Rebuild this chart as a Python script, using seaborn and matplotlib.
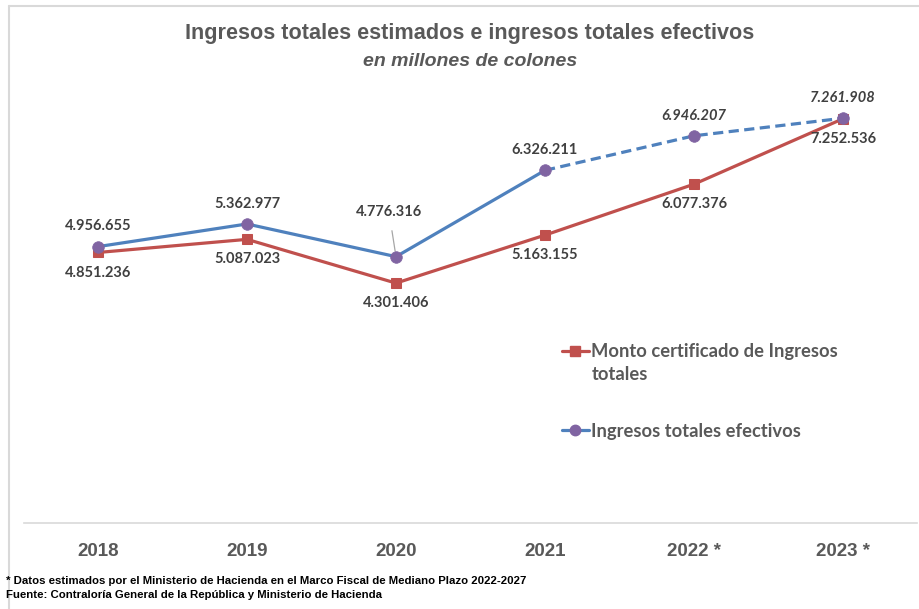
import matplotlib
matplotlib.use("Agg")
import matplotlib.pyplot as plt
from matplotlib import font_manager
from matplotlib.lines import Line2D
import seaborn as sns
import pandas as pd

# ---- data (millones de colones) ----
years = ["2018", "2019", "2020", "2021", "2022 *", "2023 *"]
monto_certificado = [4851236, 5087023, 4301406, 5163155, 6077376, 7252536]
ingresos_efectivos = [4956655, 5362977, 4776316, 6326211, 6946207, 7261908]
n_real = 4  # first four years are actual values; the rest are estimates

title = "Ingresos totales estimados e ingresos totales efectivos"
subtitle = "en millones de colones"
legend_labels = ["Monto certificado de Ingresos", "Ingresos totales efectivos"]
legend_wrap = "totales"
footnotes = [
    "* Datos estimados por el Ministerio de Hacienda en el Marco Fiscal de Mediano Plazo 2022-2027",
    "Fuente: Contraloría General de la República y Ministerio de Hacienda",
]

RED = "#C0504D"
BLUE = "#4F81BD"
PURPLE = "#8064A2"
GREY_TXT = "#595959"
LABEL_TXT = "#404040"

sns.set_style("white")
_avail = {f.name for f in font_manager.fontManager.ttflist}
NARROW = "Liberation Sans Narrow" if "Liberation Sans Narrow" in _avail else "Liberation Sans"
BODY = "Lato" if "Lato" in _avail else "DejaVu Sans"
plt.rcParams["font.family"] = [BODY, "DejaVu Sans"]

W, H = 919, 609
fig = plt.figure(figsize=(W / 100, H / 100), dpi=100)
fig.patch.set_facecolor("white")

# chart frame (left and top edges visible)
fig.add_artist(Line2D([8.5 / W, 8.5 / W], [0, 1 - 6 / H], transform=fig.transFigure,
                      color="#D9D9D9", lw=1.5))
fig.add_artist(Line2D([8.5 / W, 1], [1 - 6 / H, 1 - 6 / H], transform=fig.transFigure,
                      color="#D9D9D9", lw=1.5))

x0, x1 = 23.5, 917.5
y_base, px_per_unit = 522.7, 55.7e-6
ymax = 8_000_000
ax = fig.add_axes([x0 / W, (H - y_base) / H, (x1 - x0) / W, ymax * px_per_unit / H])

df = pd.DataFrame({
    "pos": range(len(years)),
    "monto": monto_certificado,
    "efectivo": ingresos_efectivos,
})

lw = 2.3
sns.lineplot(data=df, x="pos", y="monto", ax=ax, color=RED, lw=lw, marker="s",
             markersize=7.5, markeredgecolor=RED, markerfacecolor=RED, zorder=3)
sns.lineplot(data=df.iloc[:n_real], x="pos", y="efectivo", ax=ax, color=BLUE, lw=lw,
             zorder=4)
sns.lineplot(data=df.iloc[n_real - 1:], x="pos", y="efectivo", ax=ax, color=BLUE, lw=lw,
             dashes=False, linestyle=(0, (3.2, 1.7)), zorder=4)
sns.scatterplot(data=df, x="pos", y="efectivo", ax=ax, color=PURPLE, s=70,
                edgecolor=PURPLE, linewidth=0.5, zorder=5)


def fmt(v):
    return f"{v:,}".replace(",", ".")


label_kw = dict(textcoords="offset points", ha="center", va="center",
                fontsize=10.5, fontweight="bold", color=LABEL_TXT)
for i, v in enumerate(ingresos_efectivos):
    style = "italic" if i >= n_real else "normal"
    if i == 2:
        ax.annotate(fmt(v), (i, v), xytext=(-5, 32), fontstyle=style,
                    arrowprops=dict(arrowstyle="-", color="#A6A6A6", lw=0.9,
                                    shrinkA=6, shrinkB=4), **label_kw)
    else:
        ax.annotate(fmt(v), (i, v), xytext=(0, 14.5), fontstyle=style, **label_kw)
for i, v in enumerate(monto_certificado):
    ax.annotate(fmt(v), (i, v), xytext=(0, -14.5), **label_kw)

ax.set_xlim(-0.5, len(years) - 0.5)
ax.set_ylim(0, ymax)
ax.set_xticks(range(len(years)))
ax.set_xticklabels(years, fontsize=13.5, fontweight="bold", color=GREY_TXT, family=NARROW)
ax.tick_params(axis="x", length=0, pad=14.5)
ax.set_yticks([])
ax.set_xlabel("")
ax.set_ylabel("")
for s in ("top", "left", "right"):
    ax.spines[s].set_visible(False)
ax.spines["bottom"].set_color("#D9D9D9")
ax.spines["bottom"].set_linewidth(1.2)
ax.set_facecolor("none")

handles = [
    Line2D([], [], color=RED, lw=lw, marker="s", markersize=7.5, markerfacecolor=RED,
           markeredgecolor=RED),
    Line2D([], [], color=BLUE, lw=lw, marker="o", markersize=7.5, markerfacecolor=PURPLE,
           markeredgecolor=PURPLE),
]
leg_fs = 13.2
leg = ax.legend(handles, legend_labels, loc="upper left",
                bbox_to_anchor=(562 / W, 1 - 343 / H), bbox_transform=fig.transFigure,
                frameon=False, fontsize=leg_fs, handlelength=1.45, handletextpad=0.15,
                labelspacing=3.42, borderpad=0, borderaxespad=0)
for t in leg.get_texts():
    t.set_color(GREY_TXT)
    t.set_fontweight("bold")
# second line of the first legend entry, aligned under its text
fig.text(592 / W, 1 - 375 / H, legend_wrap, ha="left", va="center",
         fontsize=leg_fs, fontweight="bold", color=GREY_TXT)

fig.text(470 / W, 1 - 33 / H, title, ha="center", va="center", fontsize=15.6,
         fontweight="bold", color=GREY_TXT, family=NARROW)
fig.text(470 / W, 1 - 62 / H, subtitle, ha="center", va="center", fontsize=14,
         fontweight="bold", fontstyle="italic", color=GREY_TXT, family=NARROW)

fig.text(6 / W, 1 - 580.5 / H, footnotes[0], ha="left", va="center", fontsize=8.2,
         fontweight="bold", color="black", family=NARROW)
fig.text(6 / W, 1 - 595 / H, footnotes[1], ha="left", va="center", fontsize=8.2,
         fontweight="bold", color="black", family=NARROW)

fig.savefig("out.png", dpi=100, facecolor="white")
